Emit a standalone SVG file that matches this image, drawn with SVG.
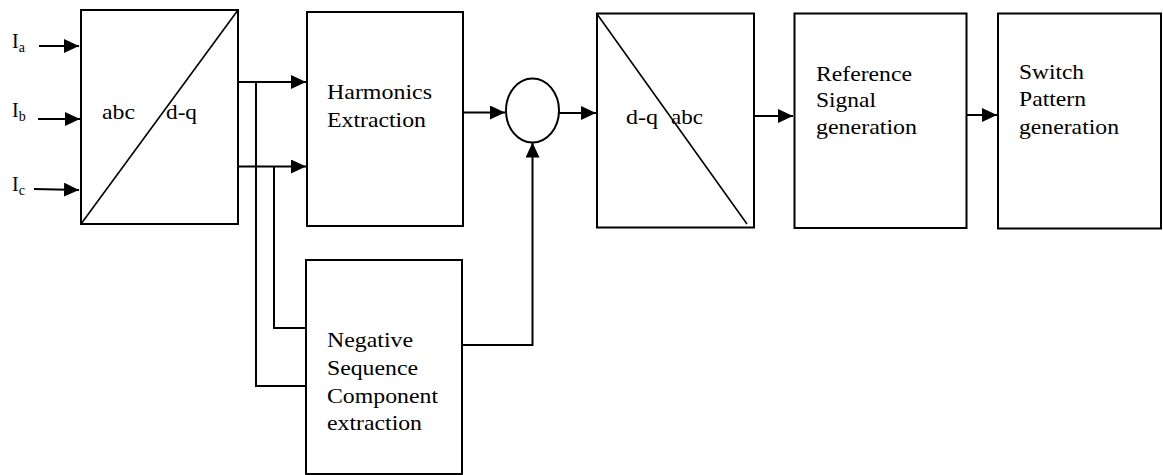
<svg xmlns="http://www.w3.org/2000/svg" width="1163" height="475" viewBox="0 0 1163 475">
<style>
.box{fill:none;stroke:#000;stroke-width:2}
.diag{fill:none;stroke:#000;stroke-width:1.6}
.ln{fill:none;stroke:#000;stroke-width:2}
.t{font-family:"Liberation Serif","Times New Roman",serif;font-size:22px;fill:#000}
.lab{font-family:"Liberation Serif","Times New Roman",serif;font-size:20px;fill:#000}
.sub{font-size:14px}
</style>
<defs>
<marker id="ah" markerUnits="userSpaceOnUse" markerWidth="15" markerHeight="14" refX="15" refY="7" orient="auto">
<path d="M0,0 L15,7 L0,14 z" fill="#000"/>
</marker>
</defs>
<rect width="1163" height="475" fill="#fff"/>
<g id="inputs">
<text class="lab" x="12" y="48">I<tspan class="sub" dy="4">a</tspan></text>
<text class="lab" x="12" y="117">I<tspan class="sub" dy="4">b</tspan></text>
<text class="lab" x="12" y="191">I<tspan class="sub" dy="4">c</tspan></text>
</g>
<g id="abc-dq">
<rect class="box" x="81" y="10" width="157" height="214"/>
<path class="diag" d="M81,224 L238,10"/>
<text class="t" x="102" y="119" textLength="33" lengthAdjust="spacingAndGlyphs">abc</text>
<text class="t" x="166" y="119" textLength="31" lengthAdjust="spacingAndGlyphs">d-q</text>
</g>
<g id="harmonics">
<rect class="box" x="307" y="12" width="156" height="214"/>
<text class="t" x="327" y="99" textLength="105" lengthAdjust="spacingAndGlyphs">Harmonics</text>
<text class="t" x="327" y="126.5" textLength="99" lengthAdjust="spacingAndGlyphs">Extraction</text>
</g>
<g id="negative">
<rect class="box" x="306" y="260" width="156" height="214"/>
<text class="t" x="327" y="347" textLength="86" lengthAdjust="spacingAndGlyphs">Negative</text>
<text class="t" x="327" y="375" textLength="91" lengthAdjust="spacingAndGlyphs">Sequence</text>
<text class="t" x="327" y="403" textLength="111" lengthAdjust="spacingAndGlyphs">Component</text>
<text class="t" x="327" y="430" textLength="95" lengthAdjust="spacingAndGlyphs">extraction</text>
</g>
<g id="summer">
<ellipse class="box" cx="532.5" cy="110.5" rx="26.5" ry="32"/>
</g>
<g id="dq-abc">
<rect class="box" x="597" y="13.5" width="157" height="214"/>
<path class="diag" d="M597,14 L747,224"/>
<text class="t" x="626" y="124" textLength="32" lengthAdjust="spacingAndGlyphs">d-q</text>
<text class="t" x="671" y="124" textLength="32" lengthAdjust="spacingAndGlyphs">abc</text>
</g>
<g id="reference">
<rect class="box" x="794.5" y="13.5" width="172" height="214.5"/>
<text class="t" x="816" y="81" textLength="96" lengthAdjust="spacingAndGlyphs">Reference</text>
<text class="t" x="816" y="107" textLength="60" lengthAdjust="spacingAndGlyphs">Signal</text>
<text class="t" x="816" y="133.5" textLength="101" lengthAdjust="spacingAndGlyphs">generation</text>
</g>
<g id="switch">
<rect class="box" x="998" y="13.5" width="163" height="215"/>
<text class="t" x="1019" y="78.5" textLength="65" lengthAdjust="spacingAndGlyphs">Switch</text>
<text class="t" x="1019" y="106" textLength="67" lengthAdjust="spacingAndGlyphs">Pattern</text>
<text class="t" x="1019" y="133.5" textLength="100" lengthAdjust="spacingAndGlyphs">generation</text>
</g>
<g id="connectors">
<path class="ln" d="M39,46 L79,46" marker-end="url(#ah)"/>
<path class="ln" d="M38,119 L80,119" marker-end="url(#ah)"/>
<path class="ln" d="M34,189 L79,190" marker-end="url(#ah)"/>
<path class="ln" d="M238,82 L306,82" marker-end="url(#ah)"/>
<path class="ln" d="M238,166.5 L306,166.5" marker-end="url(#ah)"/>
<path class="ln" d="M256,82 L256,386 L306,386"/>
<path class="ln" d="M274,166.5 L274,328 L306,328"/>
<path class="ln" d="M463,112.5 L505,112.5" marker-end="url(#ah)"/>
<path class="ln" d="M462,345 L532.5,345 L532.5,142.5" marker-end="url(#ah)"/>
<path class="ln" d="M559,113 L596,113" marker-end="url(#ah)"/>
<path class="ln" d="M754,116 L793,116" marker-end="url(#ah)"/>
<path class="ln" d="M966,115 L997,115" marker-end="url(#ah)"/>
</g>
</svg>
